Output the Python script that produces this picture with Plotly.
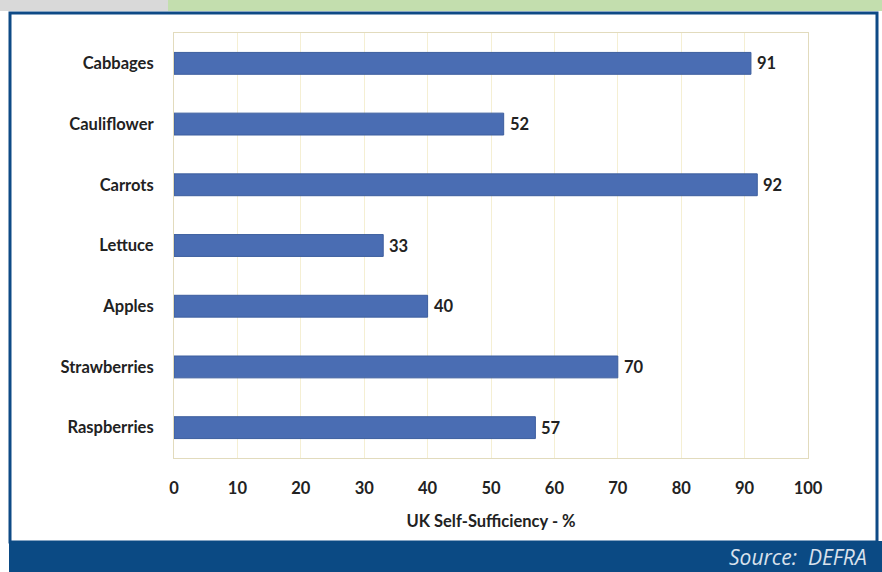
import plotly.graph_objects as go

categories = ["Cabbages", "Cauliflower", "Carrots", "Lettuce", "Apples", "Strawberries", "Raspberries"]
values = [91, 52, 92, 33, 40, 70, 57]
x_ticks = [0, 10, 20, 30, 40, 50, 60, 70, 80, 90, 100]

W, H = 882, 572
L, R, T, B = 174, 808, 33, 458
pw, ph = R - L, B - T

def px(x):
    return (x - L) / pw

def py(y):
    return (B - y) / ph

FONT = "Lato"
TXT = "#222222"

fig = go.Figure()
fig.add_trace(go.Bar(
    y=categories, x=values, orientation="h",
    marker=dict(color="#4a6db3", line=dict(color="#3d5e9e", width=1)),
    width=0.36,
    cliponaxis=False,
))

annotations = [
    dict(text=f"<b>{v}</b>", x=v, y=c, xref="x", yref="y", xanchor="left", yanchor="middle",
         xshift=4, showarrow=False, font=dict(family=FONT, size=16.5, color=TXT))
    for c, v in zip(categories, values)
]
annotations.append(
    dict(text="<i>Source:  DEFRA</i>", xref="paper", yref="paper", x=px(869), y=py(557),
         xanchor="right", yanchor="middle", showarrow=False,
         font=dict(family="Open Sans", size=21, color="#d9e1ec"))
)

shapes = [
    dict(type="rect", xref="paper", yref="paper", x0=px(0), x1=px(168), y0=py(0), y1=py(11),
         fillcolor="#d9d9d9", line=dict(width=0), layer="below"),
    dict(type="rect", xref="paper", yref="paper", x0=px(168), x1=px(882), y0=py(0), y1=py(11),
         fillcolor="#c3deae", line=dict(width=0), layer="below"),
    dict(type="rect", xref="paper", yref="paper", x0=px(10), x1=px(877), y0=py(13), y1=py(542),
         fillcolor="white", line=dict(color="#0e4a86", width=3), layer="below"),
    dict(type="rect", xref="paper", yref="paper", x0=px(9), x1=px(882), y0=py(541), y1=py(572),
         fillcolor="#0b4a84", line=dict(width=0), layer="below"),
]

fig.update_layout(
    width=W, height=H,
    margin=dict(l=L, r=W - R, t=T, b=H - B),
    paper_bgcolor="white",
    plot_bgcolor="#fdf6d6",
    showlegend=False,
    shapes=shapes,
    annotations=annotations,
    xaxis=dict(
        range=[0, 100], tickvals=x_ticks, ticktext=[f"<b>{t}</b>" for t in x_ticks],
        showgrid=True, gridcolor="#f5efd3", gridwidth=1,
        zeroline=False, showline=True, linecolor="#e2dbbd", mirror=True,
        tickfont=dict(family=FONT, size=16.5, color=TXT),
        ticks="", ticklabelstandoff=15,
        title=dict(text="<b>UK Self-Sufficiency - %</b>", font=dict(family=FONT, size=16.5, color=TXT), standoff=18),
    ),
    yaxis=dict(
        categoryorder="array", categoryarray=categories[::-1],
        range=[-0.5, 6.5],
        tickvals=categories, ticktext=[f"<b>{c}</b>" for c in categories],
        showgrid=False, zeroline=False, showline=True, linecolor="#e2dbbd", mirror=True,
        tickfont=dict(family=FONT, size=16.5, color=TXT),
        ticks="", ticklabelstandoff=16,
    ),
)

fig.write_html("out.html")
